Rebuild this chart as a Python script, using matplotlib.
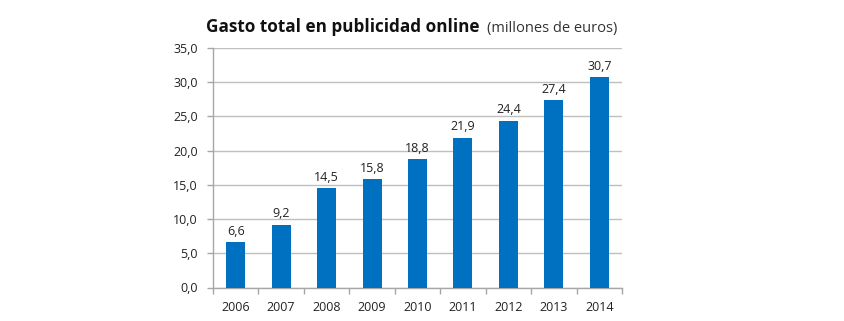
import matplotlib
matplotlib.use("Agg")
import matplotlib.pyplot as plt

years = ["2006", "2007", "2008", "2009", "2010", "2011", "2012", "2013", "2014"]
values = [6.6, 9.2, 14.5, 15.8, 18.8, 21.9, 24.4, 27.4, 30.7]
yticks = [0, 5, 10, 15, 20, 25, 30, 35]

plt.rcParams['font.family'] = ['Open Sans', 'DejaVu Sans']

fig = plt.figure(figsize=(8.45, 3.21), dpi=100)
ax = fig.add_axes([213/845, 1 - 287.5/321, (622-213)/845, (287.5-48)/321])

x = list(range(len(years)))
bars = ax.bar(x, values, width=0.42, color="#0070C0", zorder=3)
for xi, v in zip(x, values):
    ax.annotate(f"{v:.1f}".replace(".", ","), (xi, v), xytext=(0, 3),
                textcoords="offset points", ha="center", va="bottom",
                fontsize=9, color="#222222")

ax.set_xlim(-0.5, len(years) - 0.5)
ax.set_ylim(0, 35)
ax.set_yticks(yticks)
ax.set_yticklabels([f"{t:.1f}".replace(".", ",") for t in yticks], fontsize=9, color="#222222")
ax.set_xticks(x)
ax.set_xticklabels(years, fontsize=9, color="#222222")
ax.tick_params(axis="x", length=0, pad=10)
ax.set_xticks([i - 0.5 for i in range(len(years) + 1)], minor=True)
ax.tick_params(axis="x", which="minor", length=4, color="#a6a6a6", width=1)
ax.tick_params(axis="y", length=4, color="#a6a6a6", width=1, pad=7)

ax.grid(axis="y", color="#bfbfbf", linewidth=1, zorder=0)
for s in ["top", "right"]:
    ax.spines[s].set_visible(False)
for s in ["left", "bottom"]:
    ax.spines[s].set_color("#a6a6a6")
    ax.spines[s].set_linewidth(1)

fig.text(206/845, 1 - 32/321, "Gasto total en publicidad online", fontsize=12.3,
         fontweight="bold", ha="left", va="baseline", color="#111111")
fig.text(487/845, 1 - 32/321, "(millones de euros)", fontsize=10.5,
         ha="left", va="baseline", color="#333333")

fig.savefig("out.png", dpi=100)
